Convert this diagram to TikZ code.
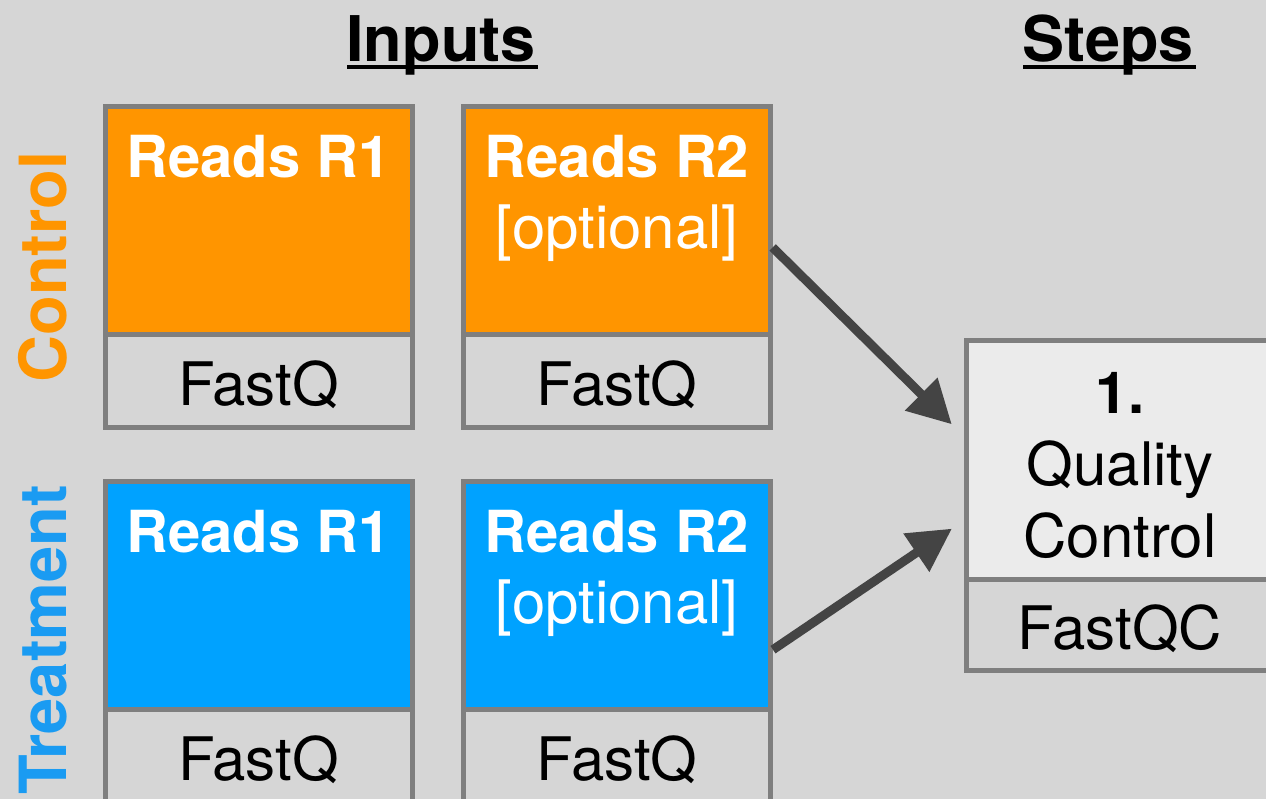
\documentclass[tikz,border=0pt]{standalone}
\usepackage{fontspec}
\setmainfont{TeX Gyre Heros}
\usetikzlibrary{arrows.meta,positioning}

\definecolor{bggray}{HTML}{D6D6D6}
\definecolor{ctrlorange}{HTML}{FF9500}
\definecolor{trtblue}{HTML}{00A2FF}
\definecolor{trttext}{HTML}{1A9BF2}
\definecolor{edgegray}{HTML}{7F7F7F}
\definecolor{qcgray}{HTML}{EBEBEB}
\definecolor{arrowgray}{HTML}{444444}

\begin{document}
\begin{tikzpicture}[
            x = 1pt, y = -1pt, % one unit per pixel, y goes down
            > = {Triangle[length=43pt,width=44pt]}, % arrow head style
            shorten < = 3pt, % start clear of the box border
            databox/.style = {draw=edgegray, line width=5pt, outer sep=0pt, inner sep=0pt,
                minimum width=307pt, minimum height=228pt},
            fmtbox/.style = {draw=edgegray, line width=5pt, fill=bggray, outer sep=0pt, inner sep=0pt,
                minimum width=307pt, minimum height=92pt, text height=49pt, text depth=0pt,
                font=\fontsize{60}{71}\selectfont},
            boxlabel/.style = {anchor=base, text=white, align=center, inner sep=0pt,
                font=\fontsize{60}{71}\selectfont},
            title/.style = {anchor=base, inner xsep=2pt, inner ysep=0pt,
                font=\fontsize{63}{75}\selectfont\bfseries},
            side/.style = {anchor=base, rotate=90, inner sep=0pt,
                font=\fontsize{65}{75}\selectfont\bfseries},
            flow/.style = {->, draw=arrowgray, line width=9pt} % connector style
        ]

	\useasboundingbox (0,0) rectangle (1266,799);
	\clip (0,0) rectangle (1266,799);
	\fill[bggray] (0,0) rectangle (1266,799);

	% headings
	\node[title] (inputs) at (441,62) {Inputs};
	\node[title] (steps) at (1108,62) {Steps};
	\draw[line width=4pt] ([yshift=-5pt]inputs.base west) -- ([yshift=-5pt]inputs.base east);
	\draw[line width=4pt] ([yshift=-5pt]steps.base west) -- ([yshift=-5pt]steps.base east);

	\node[side, text=ctrlorange] (ctrl) at (66,267) {Control};
	\node[side, text=trttext] (trt) at (66,640) {Treatment};

	% control inputs
	\node[databox, fill=ctrlorange] (ctrlR1) at (258.5,221) {};
	\node[fmtbox, below=0pt of ctrlR1] (ctrlR1fmt) {FastQ};
	\node[databox, fill=ctrlorange] (ctrlR2) at (617,221) {};
	\node[fmtbox, below=0pt of ctrlR2] (ctrlR2fmt) {FastQ};
	\node[boxlabel] (ctrlR1txt) at ([yshift=-71pt]ctrlR1.north) {\fontsize{58}{71}\selectfont\textbf{Reads R1}};
	% base of a two-line label is its last line
	\node[boxlabel] (ctrlR2txt) at ([yshift=-142pt]ctrlR2.north) {{\fontsize{58}{71}\selectfont\textbf{Reads R2}}\\{[optional]}};

	% treatment inputs
	\node[databox, fill=trtblue] (trtR1) at (258.5,595.5) {};
	\node[fmtbox, below=0pt of trtR1] (trtR1fmt) {FastQ};
	\node[databox, fill=trtblue] (trtR2) at (617,595.5) {};
	\node[fmtbox, below=0pt of trtR2] (trtR2fmt) {FastQ};
	\node[boxlabel] (trtR1txt) at ([yshift=-71pt]trtR1.north) {\fontsize{58}{71}\selectfont\textbf{Reads R1}};
	\node[boxlabel] (trtR2txt) at ([yshift=-142pt]trtR2.north) {{\fontsize{58}{71}\selectfont\textbf{Reads R2}}\\{[optional]}};

	% step 1
	\node[databox, fill=qcgray, minimum width=308pt, minimum height=238pt] (qc) at (1120,460) {};
	\node[fmtbox, below=0pt of qc, minimum width=308pt, minimum height=91pt] (qcfmt) {FastQC};
	\node[boxlabel, text=black, font=\fontsize{60}{72}\selectfont] (qctxt) at ([yshift=-216pt]qc.north) {{\fontsize{58}{72}\selectfont\textbf{1.}}\\Quality\\Control};

	\draw[flow, shorten >=20pt] (ctrlR2.-9) -- (qc.172.6);
	\draw[flow, shorten >=17pt] (trtR2.-20.8) -- (qc.201);

\end{tikzpicture}
\end{document}
